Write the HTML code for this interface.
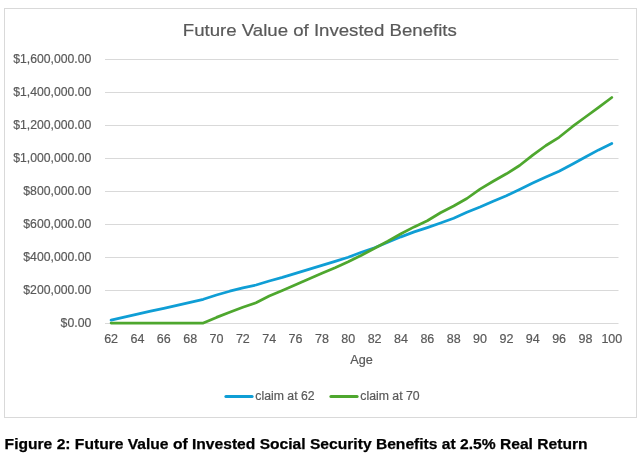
<!DOCTYPE html>
<html><head><meta charset="utf-8"><style>
html,body{margin:0;padding:0;background:#fff;width:641px;height:453px;overflow:hidden}
svg{position:absolute;left:0;top:0;will-change:transform;font-family:"Liberation Sans",sans-serif}
</style></head><body>
<svg width="641" height="453" viewBox="0 0 641 453">
<rect x="4.5" y="8.5" width="632" height="409" fill="#fff" stroke="#d9d9d9" stroke-width="1"/>
<text x="319.8" y="35.5" text-anchor="middle" font-size="17" fill="#595959" stroke="#595959" stroke-width="0.2" textLength="274" lengthAdjust="spacingAndGlyphs">Future Value of Invested Benefits</text>
<g stroke="#d9d9d9" stroke-width="1"><line x1="105" y1="59.5" x2="618.5" y2="59.5"/><line x1="105" y1="92.5" x2="618.5" y2="92.5"/><line x1="105" y1="125.5" x2="618.5" y2="125.5"/><line x1="105" y1="158.5" x2="618.5" y2="158.5"/><line x1="105" y1="191.5" x2="618.5" y2="191.5"/><line x1="105" y1="224.5" x2="618.5" y2="224.5"/><line x1="105" y1="257.5" x2="618.5" y2="257.5"/><line x1="105" y1="290.5" x2="618.5" y2="290.5"/><line x1="105" y1="323.5" x2="618.5" y2="323.5"/></g>
<g font-size="13" fill="#595959" stroke="#595959" stroke-width="0.2" text-anchor="end"><text x="91.3" y="63.2" textLength="78.13" lengthAdjust="spacingAndGlyphs">$1,600,000.00</text><text x="91.3" y="96.2" textLength="78.13" lengthAdjust="spacingAndGlyphs">$1,400,000.00</text><text x="91.3" y="129.2" textLength="78.13" lengthAdjust="spacingAndGlyphs">$1,200,000.00</text><text x="91.3" y="162.2" textLength="78.13" lengthAdjust="spacingAndGlyphs">$1,000,000.00</text><text x="91.3" y="195.2" textLength="67.99" lengthAdjust="spacingAndGlyphs">$800,000.00</text><text x="91.3" y="228.2" textLength="67.99" lengthAdjust="spacingAndGlyphs">$600,000.00</text><text x="91.3" y="261.2" textLength="67.99" lengthAdjust="spacingAndGlyphs">$400,000.00</text><text x="91.3" y="294.2" textLength="67.99" lengthAdjust="spacingAndGlyphs">$200,000.00</text><text x="91.3" y="327.2" textLength="30.72" lengthAdjust="spacingAndGlyphs">$0.00</text></g>
<g font-size="12.5" fill="#595959" stroke="#595959" stroke-width="0.2" text-anchor="middle"><text x="111.09" y="343">62</text><text x="137.44" y="343">64</text><text x="163.80" y="343">66</text><text x="190.15" y="343">68</text><text x="216.50" y="343">70</text><text x="242.86" y="343">72</text><text x="269.21" y="343">74</text><text x="295.57" y="343">76</text><text x="321.92" y="343">78</text><text x="348.27" y="343">80</text><text x="374.63" y="343">82</text><text x="400.98" y="343">84</text><text x="427.33" y="343">86</text><text x="453.69" y="343">88</text><text x="480.04" y="343">90</text><text x="506.40" y="343">92</text><text x="532.75" y="343">94</text><text x="559.10" y="343">96</text><text x="585.46" y="343">98</text><text x="611.81" y="343">100</text></g>
<text x="361.5" y="363.9" text-anchor="middle" font-size="12" fill="#595959" stroke="#595959" stroke-width="0.2" textLength="22.5" lengthAdjust="spacingAndGlyphs">Age</text>
<path d="M111.09,320.10 L124.27,317.15 L137.44,314.20 L150.62,311.20 L163.80,308.30 L176.97,305.30 L190.15,302.40 L203.33,299.30 L216.50,295.00 L229.68,291.20 L242.86,287.90 L256.03,285.00 L269.21,281.00 L282.39,277.40 L295.57,273.40 L308.74,269.40 L321.92,265.40 L335.10,261.40 L348.27,257.20 L361.45,252.20 L374.63,247.70 L387.80,242.20 L400.98,236.85 L414.16,231.90 L427.33,227.60 L440.51,223.00 L453.69,218.20 L466.87,212.30 L480.04,207.00 L493.22,201.20 L506.40,195.70 L519.57,189.40 L532.75,183.00 L545.93,177.00 L559.10,171.20 L572.28,164.20 L585.46,157.00 L598.63,149.90 L611.81,143.50" fill="none" stroke="#0F9ED5" stroke-width="2.75" stroke-linejoin="round" stroke-linecap="round"/>
<path d="M111.09,323.00 L124.27,323.00 L137.44,323.00 L150.62,323.00 L163.80,323.00 L176.97,323.00 L190.15,323.00 L203.33,323.00 L216.50,317.40 L229.68,312.20 L242.86,307.20 L256.03,302.80 L269.21,296.00 L282.39,290.40 L295.57,284.70 L308.74,279.00 L321.92,273.30 L335.10,267.80 L348.27,261.80 L361.45,255.30 L374.63,248.30 L387.80,241.20 L400.98,233.70 L414.16,226.90 L427.33,220.70 L440.51,212.80 L453.69,205.95 L466.87,198.50 L480.04,189.10 L493.22,181.30 L506.40,173.80 L519.57,165.50 L532.75,155.20 L545.93,145.50 L559.10,137.30 L572.28,126.70 L585.46,117.00 L598.63,107.30 L611.81,97.50" fill="none" stroke="#4EA72E" stroke-width="2.75" stroke-linejoin="round" stroke-linecap="round"/>
<line x1="225.9" y1="396.5" x2="252.1" y2="396.5" stroke="#0F9ED5" stroke-width="3" stroke-linecap="round"/>
<text x="255.3" y="400.1" font-size="12" fill="#595959" stroke="#595959" stroke-width="0.2" textLength="59.3" lengthAdjust="spacingAndGlyphs">claim at 62</text>
<line x1="330.9" y1="396.5" x2="357.1" y2="396.5" stroke="#4EA72E" stroke-width="3" stroke-linecap="round"/>
<text x="360.3" y="400.1" font-size="12" fill="#595959" stroke="#595959" stroke-width="0.2" textLength="59.3" lengthAdjust="spacingAndGlyphs">claim at 70</text>
<text x="4.6" y="448.7" font-size="15" font-weight="bold" fill="#000" stroke="#000" stroke-width="0.25" textLength="583" lengthAdjust="spacingAndGlyphs">Figure 2: Future Value of Invested Social Security Benefits at 2.5% Real Return</text>
</svg>
</body></html>
